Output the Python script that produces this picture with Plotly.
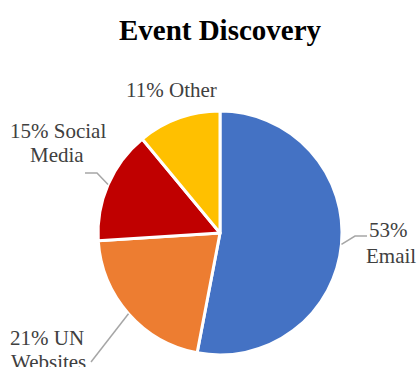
import math
import plotly.graph_objects as go

categories = ["Email", "UN Websites", "Social Media", "Other"]
values = [53, 21, 15, 11]
colors = ["#4472C4", "#ED7D31", "#C00000", "#FFC000"]
label_lines = [["53%", "Email"], ["21% UN", "Websites"], ["15% Social", "Media"], ["11% Other"]]

W, H = 417, 367
cx, cy, R = 220, 233, 122

def px(x):
    return x / W

def py(y):
    return 1 - y / H

fig = go.Figure(go.Pie(
    labels=categories, values=values, sort=False, direction="clockwise", rotation=0,
    marker=dict(colors=colors, line=dict(color="white", width=3)),
    textinfo="none", hoverinfo="label+percent",
    domain=dict(x=[px(cx - R), px(cx + R)], y=[py(cy + R), py(cy - R)]),
    showlegend=False,
))

# label line positions (layout)
label_pos = [[(388, 230), (391, 256)], [(47, 338), (48, 362)], [(58, 131), (57, 155)], [(171, 90)]]
# elbow points for leader lines (None = no line)
elbows = [[(355, 236), (367, 236)], [(91, 362)], [(97, 173), (85, 173)], None]

total = sum(values)
cum = 0
annotations = []
shapes = []
for i, v in enumerate(values):
    mid = (cum + v / 2) / total * 2 * math.pi
    cum += v
    ex = cx + R * math.sin(mid)
    ey = cy - R * math.cos(mid)
    for line, (lx, ly) in zip(label_lines[i], label_pos[i]):
        annotations.append(dict(x=px(lx), y=py(ly), xref="paper", yref="paper", text=line,
                                showarrow=False, font=dict(family="Liberation Serif", size=21, color="#404040"),
                                xanchor="center", yanchor="middle", align="center"))
    if elbows[i]:
        pts = [(ex, ey)] + elbows[i]
        path = "M " + " L ".join(f"{px(a)},{py(b)}" for a, b in pts)
        shapes.append(dict(type="path", path=path, xref="paper", yref="paper",
                           line=dict(color="#A6A6A6", width=1.5)))

fig.update_layout(
    width=W, height=H, margin=dict(l=0, r=0, t=0, b=0),
    paper_bgcolor="white", plot_bgcolor="white",
    title=dict(text="<b>Event Discovery</b>", x=px(220), xanchor="center", y=py(30), yanchor="middle",
               font=dict(family="Liberation Serif", size=29, color="black")),
    annotations=annotations, shapes=shapes,
)

fig.write_html("out.html")
